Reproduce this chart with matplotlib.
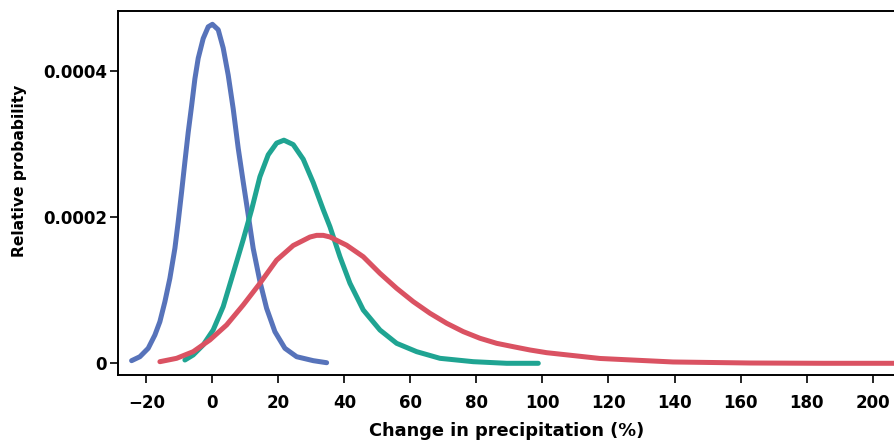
import matplotlib
matplotlib.use('Agg')
import matplotlib.pyplot as plt
from matplotlib.ticker import FixedLocator, FixedFormatter


# change in precipitation (%) and relative probability (x 1e-4) for each distribution
blueX = [-24.48, -21.97, -19.45, -17.42, -15.91, -14.39, -12.88, -11.36, -10.36, -9.33, -8.33, -7.33,
         -6.3, -5.3, -4.3, -2.79, -1.27, 0.0, 1.76, 3.27, 4.79, 6.30, 7.82, 9.33, 10.85, 12.36,
         14.39, 16.42, 18.94, 21.97, 25.52, 30.55, 34.61]
blueY = [0.036, 0.090, 0.205, 0.387, 0.569, 0.842, 1.162, 1.572, 1.936, 2.343, 2.756, 3.157,
         3.52, 3.89, 4.17, 4.44, 4.60, 4.634, 4.56, 4.31, 3.94, 3.48, 2.94, 2.48, 2.03, 1.57,
         1.12, 0.752, 0.432, 0.205, 0.090, 0.036, 0.008]

tealX = [-8.33, -5.82, -2.79, 0.24, 3.27, 6.30, 9.33, 11.88, 14.39, 16.91, 19.45, 21.67, 24.48,
         27.52, 30.55, 33.58, 35.61, 38.64, 41.67, 43.70, 45.70, 50.76, 55.82, 61.88, 68.94,
         79.03, 89.15, 98.73]
tealY = [0.045, 0.114, 0.251, 0.456, 0.775, 1.23, 1.69, 2.10, 2.55, 2.85, 3.01, 3.05, 2.99,
         2.79, 2.47, 2.10, 1.867, 1.457, 1.094, 0.911, 0.729, 0.455, 0.273, 0.159, 0.068,
         0.022, 0.0, 0.0]

redX = [-15.91, -10.85, -5.82, -0.76, 4.30, 9.33, 14.39, 19.45, 24.48, 29.55, 31.58, 33.58,
        35.61, 40.67, 45.70, 50.76, 55.82, 60.85, 65.91, 70.97, 76.0, 81.06, 86.12, 91.15,
        96.21, 101.27, 117.42, 139.55, 162.88, 185.0, 210.0]
redY = [0.022, 0.068, 0.159, 0.319, 0.524, 0.797, 1.093, 1.41, 1.61, 1.726, 1.749, 1.749,
        1.727, 1.614, 1.457, 1.23, 1.025, 0.843, 0.684, 0.547, 0.433, 0.342, 0.273, 0.227,
        0.182, 0.145, 0.066, 0.018, 0.004, 0.0, 0.0]

xTicks = [-20, 0, 20, 40, 60, 80, 100, 120, 140, 160, 180, 200]
yTicks = [0, 0.0002, 0.0004]
yTickLabels = ['0', '0.0002', '0.0004']

scale = 1e-4

plt.rcParams['font.family'] = ['DejaVu Sans']
plt.rcParams['font.weight'] = 'bold'

fig = plt.figure(figsize=(8.95, 4.43), dpi=100)
ax = fig.add_axes([118 / 895, 68 / 443, 1 - 118 / 895, 364 / 443])

ax.plot(blueX, [v * scale for v in blueY], color='#5773BA', linewidth=3.6, solid_capstyle='round', solid_joinstyle='round')
ax.plot(tealX, [v * scale for v in tealY], color='#1FA492', linewidth=3.6, solid_capstyle='round', solid_joinstyle='round')
ax.plot(redX, [v * scale for v in redY], color='#DA5262', linewidth=3.6, solid_capstyle='round', solid_joinstyle='round')

ax.set_xlim(-28.6, 206.8)
ax.set_ylim(-0.000016, 0.0004816)

ax.xaxis.set_major_locator(FixedLocator(xTicks))
ax.yaxis.set_major_locator(FixedLocator(yTicks))
ax.yaxis.set_major_formatter(FixedFormatter(yTickLabels))

ax.spines['right'].set_visible(False)
for s in ['left', 'top', 'bottom']:
    ax.spines[s].set_linewidth(1.4)

ax.tick_params(axis='x', direction='out', length=5.5, width=1.2, pad=8, labelsize=12)
ax.tick_params(axis='y', direction='out', length=6, width=1.2, pad=2, labelsize=12)

ax.set_xlabel('Change in precipitation (%)', fontsize=12.8, fontweight='bold', va='top')
ax.set_ylabel('Relative probability', fontsize=11.2, fontweight='bold')
ax.xaxis.set_label_coords(0.5, -0.13)
ax.yaxis.set_label_coords(-0.117, 0.56)

fig.savefig('out.png', dpi=100)
